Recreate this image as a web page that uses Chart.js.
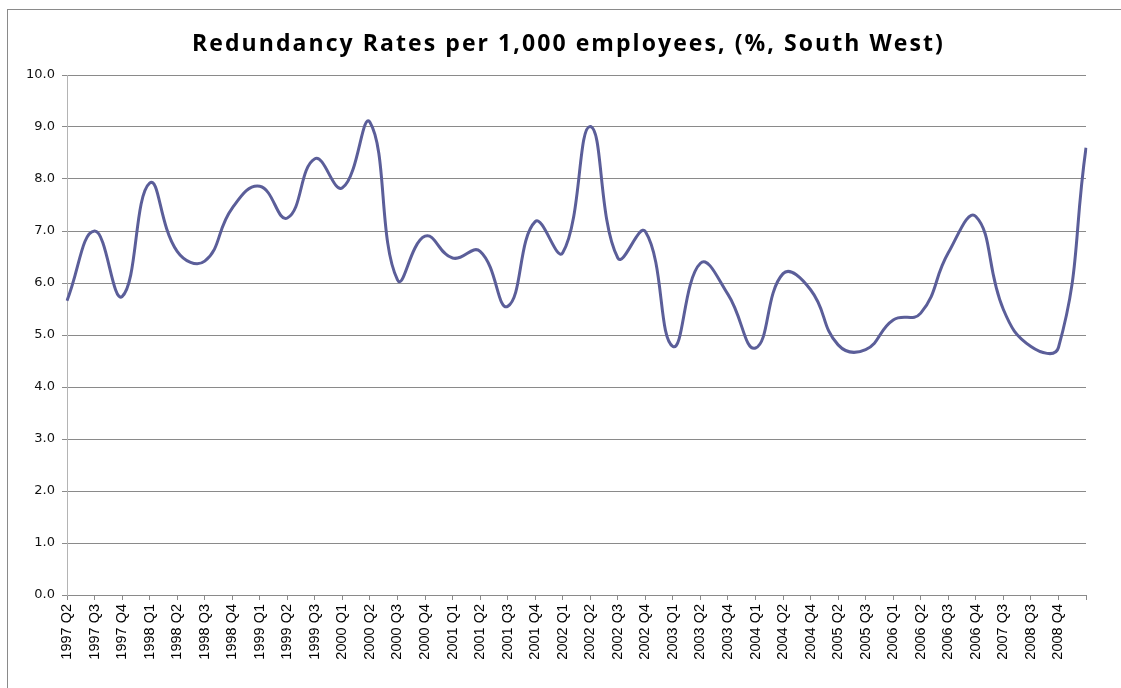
<!DOCTYPE html>
<html>
<head>
<meta charset="utf-8">
<script src="https://cdn.jsdelivr.net/npm/chart.js@4.4.1/dist/chart.umd.min.js"></script>
<style>
  html, body { margin: 0; padding: 0; background: #fff; overflow: hidden; }
  #wrap { position: relative; width: 1121px; height: 688px; }
  #frame { position: absolute; left: 7px; top: 9px; width: 1200px; height: 800px;
           border-left: 1px solid #8a8a8a; border-top: 1px solid #8a8a8a; }
  canvas { position: absolute; left: 0; top: 0; }
</style>
</head>
<body>
<div id="wrap">
  <div id="frame"></div>
  <canvas id="redundancyChart" width="1121" height="688"></canvas>
</div>
<script>
// quarter labels (last point has no label in the original)
const quarters = [
  '1997 Q2', '1997 Q3', '1997 Q4', '1998 Q1', '1998 Q2', '1998 Q3', '1998 Q4',
  '1999 Q1', '1999 Q2', '1999 Q3', '2000 Q1', '2000 Q2', '2000 Q3', '2000 Q4',
  '2001 Q1', '2001 Q2', '2001 Q3', '2001 Q4', '2002 Q1', '2002 Q2', '2002 Q3',
  '2002 Q4', '2003 Q1', '2003 Q2', '2003 Q4', '2004 Q1', '2004 Q2', '2004 Q4',
  '2005 Q2', '2005 Q3', '2006 Q1', '2006 Q2', '2006 Q3', '2006 Q4', '2007 Q3',
  '2008 Q3', '2008 Q4', ''
];

// redundancy rate per 1,000 employees, South West
const rates = [
  5.66, 7.00, 5.74, 7.92, 6.61, 6.42, 7.44, 7.86, 7.25, 8.39,
  7.83, 9.09, 6.06, 6.90, 6.48, 6.61, 5.55, 7.18, 6.58, 9.01,
  6.48, 6.99, 4.78, 6.38, 5.78, 4.75, 6.18, 5.87, 4.81, 4.72,
  5.29, 5.42, 6.58, 7.28, 5.49, 4.78, 4.76, 8.60
];

const yTicks = [0, 1, 2, 3, 4, 5, 6, 7, 8, 9, 10];

const titleText = 'Redundancy Rates per 1,000 employees, (%, South West)';

// 제목은 글자 간격 때문에 직접 그림
const titlePlugin = {
  id: 'spacedTitle',
  afterDraw(chart) {
    const ctx = chart.ctx;
    ctx.save();
    ctx.font = 'bold 23px "Open Sans"';
    ctx.fillStyle = '#000';
    ctx.textBaseline = 'alphabetic';
    const plain = ctx.measureText(titleText).width;
    const target = 751;
    const sp = Math.max(0, (target - plain) / (titleText.length - 1));
    ctx.letterSpacing = sp.toFixed(2) + 'px';
    ctx.textAlign = 'left';
    ctx.fillText(titleText, 192, 51);
    ctx.restore();
  }
};

const ctx = document.getElementById('redundancyChart').getContext('2d');
const redundancyChart = new Chart(ctx, {
  type: 'line',
  data: {
    labels: quarters,
    datasets: [{
      label: 'Redundancy rate',
      data: rates,
      borderColor: '#5b5e99',
      borderWidth: 3,
      pointRadius: 0,
      tension: 0.45,
      fill: false
    }]
  },
  plugins: [titlePlugin],
  options: {
    responsive: false,
    animation: false,
    layout: {
      padding: { top: 75, right: 35, left: 0, bottom: 0 }
    },
    scales: {
      x: {
        offset: false,
        afterFit: function (scale) { scale.height = 93; },
        grid: {
          drawOnChartArea: false,
          drawTicks: true,
          tickLength: 5,
          color: '#8a8a8a'
        },
        border: { color: '#8a8a8a', width: 1 },
        ticks: {
          autoSkip: false,
          maxRotation: 90,
          minRotation: 90,
          padding: 4,
          color: '#000',
          font: { family: '"Liberation Sans"', size: 14.5 }
        }
      },
      y: {
        min: 0,
        max: 10,
        afterFit: function (scale) { scale.width = 67; },
        afterBuildTicks: function (scale) {
          scale.ticks = yTicks.map(v => ({ value: v }));
        },
        grid: {
          color: '#8a8a8a',
          tickLength: 5,
          drawTicks: true
        },
        border: { color: '#b4b4b4', width: 1 },
        ticks: {
          padding: 7,
          color: '#111',
          font: { family: '"DejaVu Sans"', size: 13 },
          callback: function (value) { return Number(value).toFixed(1); }
        }
      }
    },
    plugins: {
      legend: { display: false },
      title: { display: false },
      tooltip: { enabled: false }
    }
  }
});
</script>
</body>
</html>
